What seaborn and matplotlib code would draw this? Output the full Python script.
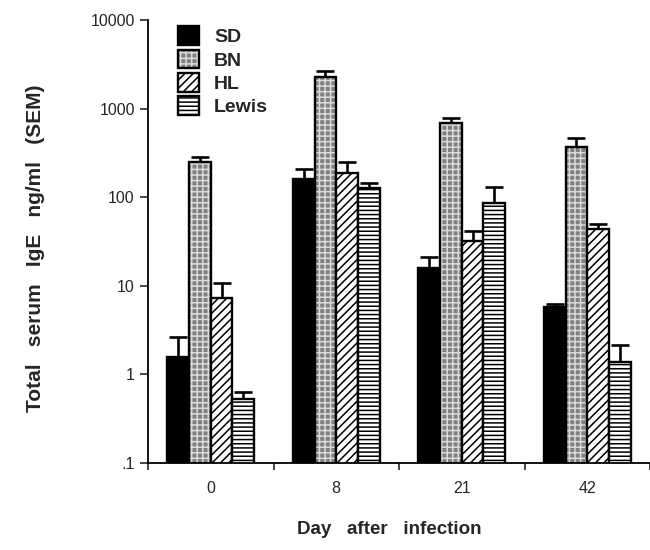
import numpy as np
import pandas as pd
import matplotlib
matplotlib.use("Agg")
import matplotlib.pyplot as plt
from matplotlib.patches import Patch
from matplotlib.container import BarContainer
import seaborn as sns

days = ["0", "8", "21", "42"]
strains = ["SD", "BN", "HL", "Lewis"]
sd_vals = [1.57, 159, 16.0, 5.8]
bn_vals = [251, 2255, 682, 372]
hl_vals = [7.3, 189, 32.3, 43.4]
lewis_vals = [0.53, 126, 87, 1.37]
sd_err = [2.63, 207, 21.0, 6.24]
bn_err = [282, 2680, 777, 470]
hl_err = [10.8, 248, 41.2, 49.8]
lewis_err = [0.63, 144, 132, 2.16]
ytick_vals = [0.1, 1, 10, 100, 1000, 10000]
ytick_labels = [".1", "1", "10", "100", "1000", "10000"]

values = [sd_vals, bn_vals, hl_vals, lewis_vals]
uppers = [sd_err, bn_err, hl_err, lewis_err]

rows = []
for s, vals in zip(strains, values):
    for d, v in zip(days, vals):
        rows.append({"day": d, "strain": s, "ige": v})
df = pd.DataFrame(rows)

sns.set_style("ticks")
plt.rcParams["font.family"] = ["Liberation Sans", "DejaVu Sans"]
plt.rcParams["hatch.linewidth"] = 1.1

fig = plt.figure(figsize=(6.5, 5.5), dpi=100)
ax = fig.add_axes([148/650, 1 - 463/550, 502/650, (463 - 20)/550])

sns.barplot(data=df, x="day", y="ige", hue="strain", order=days,
            hue_order=strains, errorbar=None, width=0.69, gap=0,
            legend=False, ax=ax)
ax.set_yscale("log", nonpositive="clip")

faces = ["black", "#808080", "white", "white"]
hatches = [None, "+++", "////", "----"]
bn_hatch = matplotlib.colors.to_rgba("#dadada")

bar_conts = [c for c in ax.containers if isinstance(c, BarContainer)]
for i, cont in enumerate(bar_conts):
    xs = []
    for bar in cont.patches:
        bar.set_facecolor(faces[i])
        bar.set_edgecolor("black")
        bar.set_linewidth(1.7)
        bar.set_zorder(2)
        if hatches[i]:
            bar.set_hatch(hatches[i])
        if i == 1:
            bar._hatch_color = bn_hatch
        xs.append(bar.get_x() + bar.get_width() / 2)
    vals = np.array(values[i])
    up = np.array(uppers[i])
    ax.errorbar(xs, vals, yerr=[np.zeros_like(vals), up - vals], fmt="none",
                ecolor="black", elinewidth=1.9, capsize=6.5, capthick=1.9,
                zorder=1)

ax.set_ylim(0.1, 10000)
ax.set_xlim(-0.5, 3.5)
ax.set_yticks(ytick_vals)
ax.set_yticklabels(ytick_labels)
ax.yaxis.set_minor_locator(matplotlib.ticker.NullLocator())
ax.set_xticks([-0.5, 0.5, 1.5, 2.5, 3.5])
ax.set_xticklabels([])
ax.set_xticks(range(4), minor=True)
ax.set_xticklabels(days, minor=True)
ax.tick_params(axis="x", which="minor", length=0, pad=13, labelsize=11.5)
ax.tick_params(axis="x", which="major", length=5, width=1.2, direction="out")
ax.tick_params(axis="y", length=6, width=1.2, labelsize=11.5, direction="out")
for sp in ["top", "right"]:
    ax.spines[sp].set_visible(False)
for sp in ["left", "bottom"]:
    ax.spines[sp].set_linewidth(1.3)
    ax.spines[sp].set_color("black")

ax.set_ylabel("Total   serum   IgE   ng/ml   (SEM)", fontsize=15, fontweight="bold")
ax.yaxis.set_label_coords(-0.205, 0.485)
ax.set_xlabel("Day   after   infection", fontsize=13.5, fontweight="bold")
ax.xaxis.set_label_coords(0.48, -0.13)

handles = []
for i, s in enumerate(strains):
    p = Patch(facecolor=faces[i], edgecolor="black", linewidth=1.7,
              hatch=hatches[i], label=s)
    handles.append(p)
leg = ax.legend(handles=handles, loc="upper left", bbox_to_anchor=(0.025, 1.025),
                frameon=False, prop={"weight": "bold", "size": 14},
                handlelength=1.1, handleheight=1.1, handletextpad=0.75,
                labelspacing=0.17)
leg.legend_handles[1]._hatch_color = bn_hatch

fig.savefig("out.png", dpi=100)
